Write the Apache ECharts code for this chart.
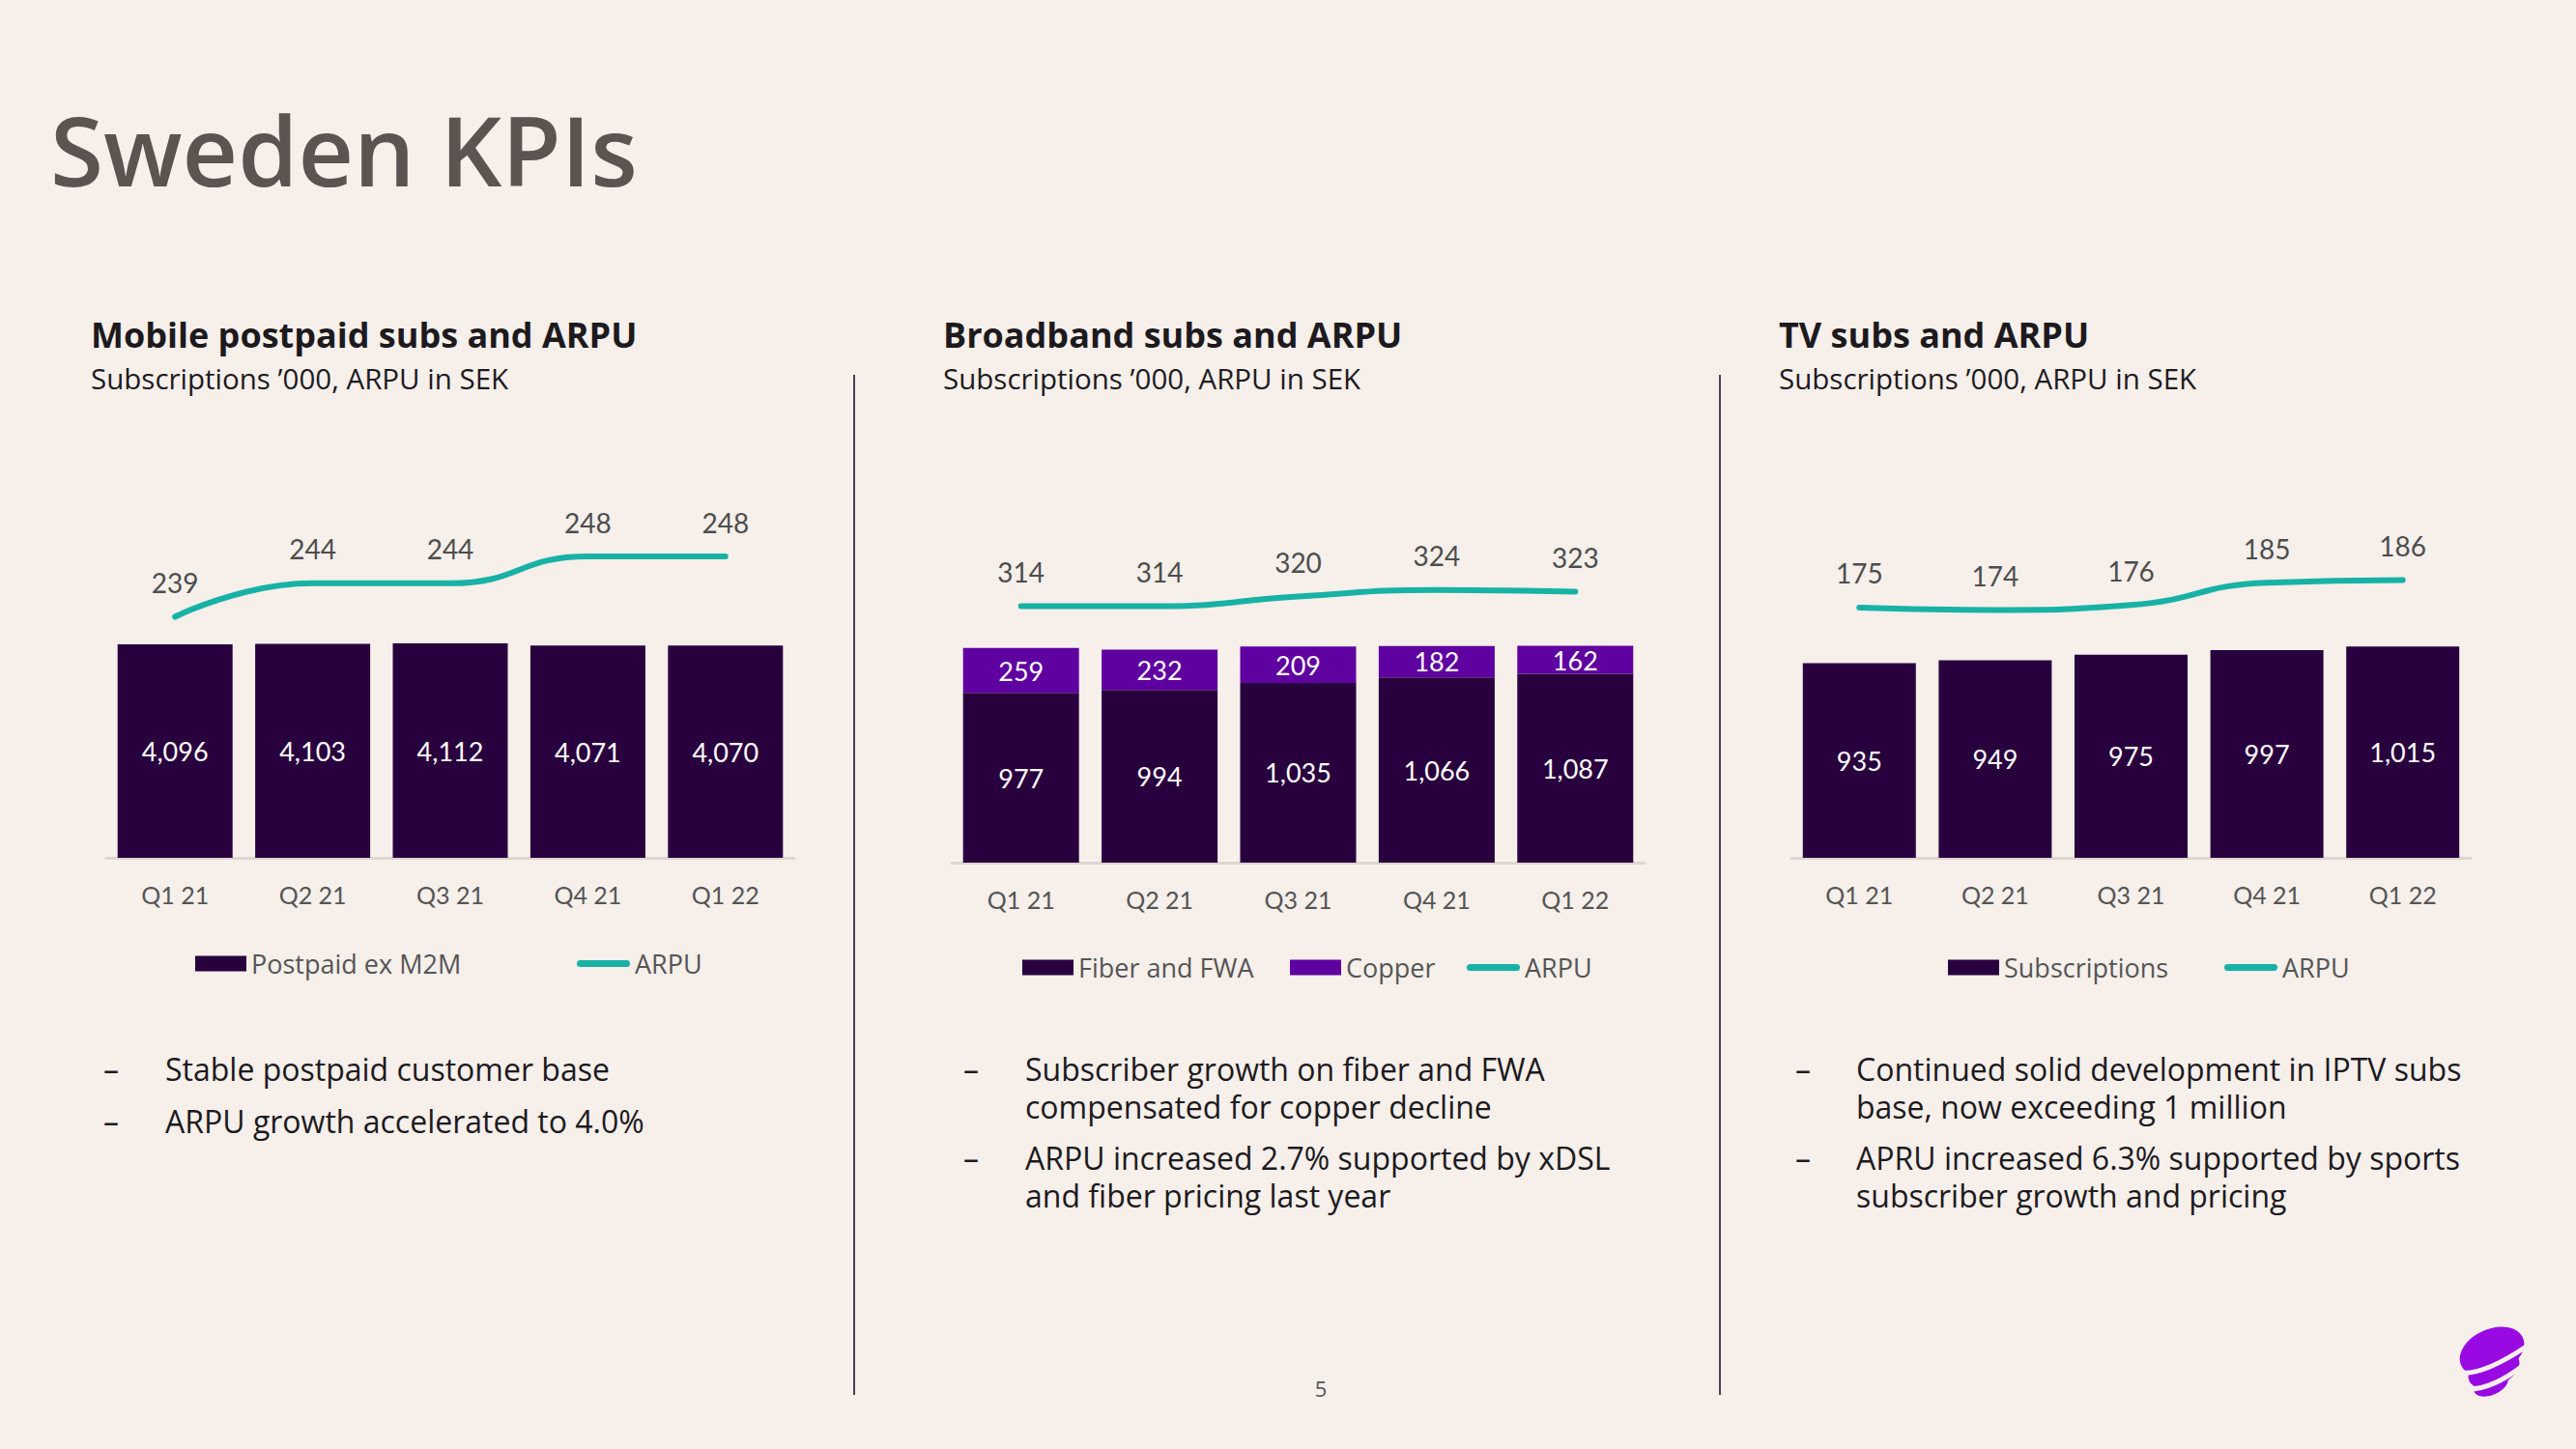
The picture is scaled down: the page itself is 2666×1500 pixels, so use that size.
<!DOCTYPE html>
<html>
<head>
<meta charset="utf-8">
<script src="https://cdn.jsdelivr.net/npm/echarts@6/dist/echarts.min.js"></script>
<style>
html,body{margin:0;padding:0;background:#f6efea;}
#c{width:2666px;height:1500px;}
</style>
</head>
<body>
<div id="c"></div>
<script>
// ---- data ----
const quarters = ['Q1 21', 'Q2 21', 'Q3 21', 'Q4 21', 'Q1 22'];
const mobilePostpaid = [4096, 4103, 4112, 4071, 4070];
const mobileArpu = [239, 244, 244, 248, 248];
const bbFiber = [977, 994, 1035, 1066, 1087];
const bbCopper = [259, 232, 209, 182, 162];
const bbArpu = [314, 314, 320, 324, 323];
const tvSubs = [935, 949, 975, 997, 1015];
const tvArpu = [175, 174, 176, 185, 186];

const FONT = 'Lato, "Open Sans", sans-serif';
const PROSE = '"Open Sans", Lato, sans-serif';
const DARK = '#29003e';
const COPPER = '#5f00a0';
const TEAL = '#17b2a5';
const GREY = '#555555';
const fmt = v => Number(v).toLocaleString('en-US');

const chart = echarts.init(document.getElementById('c'), null, {renderer: 'svg'});

const grids = [
  {left: 110, top: 500, width: 712, height: 388},
  {left: 985, top: 500, width: 717, height: 393},
  {left: 1854, top: 500, width: 703, height: 388}
];

function xAx(i) {
  return {
    type: 'category', gridIndex: i, data: quarters,
    axisTick: {show: false},
    axisLine: {show: true, lineStyle: {color: '#dcd5d0', width: 3}},
    axisLabel: {fontFamily: FONT, fontSize: 25, color: GREY, margin: 25}
  };
}
function yAx(i, min, max) {
  return {type: 'value', gridIndex: i, min: min, max: max, show: false, splitLine: {show: false}};
}

const barLabel = {
  show: true, position: 'inside', color: '#ffffff',
  fontFamily: FONT, fontSize: 27, formatter: p => fmt(p.value)
};
function arpuSeries(xi, yi, data) {
  return {
    name: 'ARPU', type: 'line', xAxisIndex: xi, yAxisIndex: yi, data: data,
    smooth: 0.5, symbol: 'circle', symbolSize: 1, showSymbol: true,
    itemStyle: {color: TEAL},
    lineStyle: {color: TEAL, width: 6, cap: 'round'},
    label: {show: true, position: 'top', distance: 21, color: '#4d4d4d',
            fontFamily: FONT, fontSize: 28, lineHeight: 28},
    z: 5
  };
}

const lineIcon = 'path://M3.5,0 H51.5 A3.5,3.5 0 0 1 51.5,7 H3.5 A3.5,3.5 0 0 1 3.5,0 Z';
function legendItem(name, left, top, isLine) {
  return {
    data: [name], left: left, top: top, padding: 0,
    itemWidth: isLine ? 55 : 53, itemHeight: isLine ? 7 : 16,
    icon: isLine ? lineIcon : 'rect',
    selectedMode: false,
    textStyle: {fontFamily: PROSE, fontSize: 27, lineHeight: 26, color: GREY}
  };
}

function txt(text, x, y, size, opts) {
  opts = opts || {};
  return {
    type: 'text', x: x, y: y, silent: true,
    style: Object.assign({
      text: text, fontFamily: PROSE, fontSize: size, fill: '#1d1a1e', lineHeight: size,
      fontWeight: 'normal', align: 'left', verticalAlign: 'middle'
    }, opts)
  };
}

const graphics = [
  txt('Sweden KPIs', 52, 154, 100, {fontWeight: 600, fill: '#5b5450'}),
  txt('Mobile postpaid subs and ARPU', 94, 346, 36, {fontWeight: 'bold'}),
  txt('Subscriptions \u2019000, ARPU in SEK', 94, 391, 29.5),
  txt('Broadband subs and ARPU', 976, 346, 36, {fontWeight: 'bold'}),
  txt('Subscriptions \u2019000, ARPU in SEK', 976, 391, 29.5),
  txt('TV subs and ARPU', 1841, 346, 36, {fontWeight: 'bold'}),
  txt('Subscriptions \u2019000, ARPU in SEK', 1841, 391, 29.5),
  // bullets
  txt('\u2013', 107, 1106, 32), txt('Stable postpaid customer base', 171, 1106, 32),
  txt('\u2013', 107, 1160, 32), txt('ARPU growth accelerated to 4.0%', 171, 1160, 32),
  txt('\u2013', 997, 1106, 32), txt('Subscriber growth on fiber and FWA\ncompensated for copper decline', 1061, 1125.5, 32, {lineHeight: 39}),
  txt('\u2013', 997, 1198, 32), txt('ARPU increased 2.7% supported by xDSL\nand fiber pricing last year', 1061, 1217.5, 32, {lineHeight: 39}),
  txt('\u2013', 1858, 1106, 32), txt('Continued solid development in IPTV subs\nbase, now exceeding 1 million', 1921, 1125.5, 32, {lineHeight: 39}),
  txt('\u2013', 1858, 1198, 32), txt('APRU increased 6.3% supported by sports\nsubscriber growth and pricing', 1921, 1217.5, 32, {lineHeight: 39}),
  txt('5', 1367, 1437, 22, {fill: '#555555', align: 'center'}),
  // separators
  {type: 'line', silent: true, shape: {x1: 884, y1: 388, x2: 884, y2: 1444}, style: {stroke: '#4b3f55', lineWidth: 2}},
  {type: 'line', silent: true, shape: {x1: 1780, y1: 388, x2: 1780, y2: 1444}, style: {stroke: '#4b3f55', lineWidth: 2}},
  // logo
  {type: 'group', silent: true, children: [
    {type: 'circle', x: 2579, y: 1399, scaleY: 0.66, rotation: 0.42, shape: {cx: 0, cy: 0, r: 35}, style: {fill: '#990ae3'}},
    {type: 'circle', x: 2581, y: 1418, scaleY: 0.6, rotation: 0.42, shape: {cx: 0, cy: 0, r: 28}, style: {fill: '#990ae3'}},
    {type: 'circle', x: 2578, y: 1433, scaleY: 0.58, rotation: 0.42, shape: {cx: 0, cy: 0, r: 19}, style: {fill: '#990ae3'}},
    {type: 'bezierCurve', shape: {x1: 2546, y1: 1421, cpx1: 2570, cpy1: 1424, x2: 2616, y2: 1393}, style: {stroke: '#f6efea', lineWidth: 5, fill: null}},
    {type: 'bezierCurve', shape: {x1: 2555, y1: 1438, cpx1: 2580, cpy1: 1438, x2: 2612, y2: 1413}, style: {stroke: '#f6efea', lineWidth: 5, fill: null}}
  ]}
];

const option = {
  backgroundColor: '#f6efea',
  animation: false,
  grid: grids,
  xAxis: [xAx(0), xAx(1), xAx(2)],
  yAxis: [
    yAx(0, 0, 7190), yAx(0, 203.05, 258.96),
    yAx(1, 0, 2186), yAx(1, 156.1, 389.9),
    yAx(2, 0, 1800), yAx(2, 74.3, 225.1)
  ],
  legend: [
    legendItem('Postpaid ex M2M', 202, 984, false),
    legendItem('ARPU', 597, 984, true),
    legendItem('Fiber and FWA', 1058, 988, false),
    legendItem('Copper', 1335, 988, false),
    legendItem('ARPU', 1518, 988, true),
    legendItem('Subscriptions', 2016, 988, false),
    legendItem('ARPU', 2302, 988, true)
  ],
  series: [
    {name: 'Postpaid ex M2M', type: 'bar', xAxisIndex: 0, yAxisIndex: 0, data: mobilePostpaid,
     barWidth: 119, itemStyle: {color: DARK}, label: barLabel},
    arpuSeries(0, 1, mobileArpu),
    {name: 'Fiber and FWA', type: 'bar', stack: 'bb', xAxisIndex: 1, yAxisIndex: 2, data: bbFiber,
     barWidth: 120, itemStyle: {color: DARK}, label: barLabel},
    {name: 'Copper', type: 'bar', stack: 'bb', xAxisIndex: 1, yAxisIndex: 2, data: bbCopper,
     barWidth: 120, itemStyle: {color: COPPER}, label: barLabel},
    arpuSeries(1, 3, bbArpu),
    {name: 'Subscriptions', type: 'bar', xAxisIndex: 2, yAxisIndex: 4, data: tvSubs,
     barWidth: 117, itemStyle: {color: DARK}, label: barLabel},
    arpuSeries(2, 5, tvArpu)
  ],
  graphic: graphics
};
chart.setOption(option);
</script>
</body>
</html>
